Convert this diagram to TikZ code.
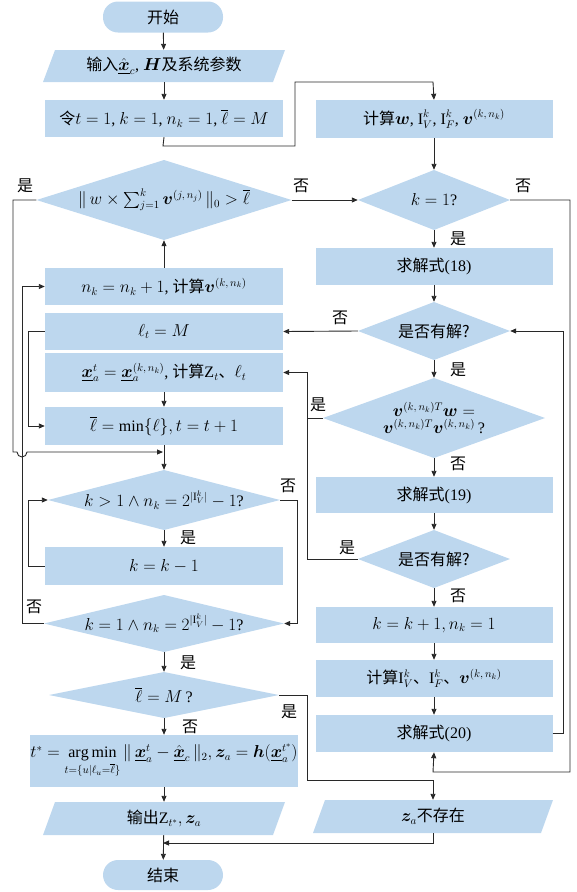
\documentclass[tikz,border=0pt]{standalone}
\usepackage{amsmath,amssymb}
\usepackage{bm}
\usepackage{fontspec}
\setmainfont{Liberation Serif}
\newfontfamily\cjkfont{Noto Sans CJK SC}
\newcommand\zw[1]{{\cjkfont #1}}
\usetikzlibrary{arrows.meta}
\definecolor{bx}{RGB}{189,215,238}
\definecolor{lc}{RGB}{40,40,40}
\newcommand\fs{\fontsize{16}{19}\selectfont}
\newcommand\ux{\underline{\bm{x}}}
\tikzset{
  box/.style={rectangle, fill=bx, inner sep=0pt, align=center, font=\fs},
  term/.style={box, rounded corners=15pt},
  dia/.style={rectangle, inner sep=0pt, align=center, font=\fs,
    path picture={\fill[bx] (path picture bounding box.north) -- (path picture bounding box.east) -- (path picture bounding box.south) -- (path picture bounding box.west) -- cycle;}},
  para/.style={rectangle, inner sep=0pt, align=center, font=\fs,
    path picture={\fill[bx] ([xshift=12pt]path picture bounding box.north west) -- (path picture bounding box.north east) -- ([xshift=-12pt]path picture bounding box.south east) -- (path picture bounding box.south west) -- cycle;}},
  cn/.style={draw=lc, line width=0.9pt},
  ar/.style={cn, -{Triangle[length=6pt,width=5pt]}},
  lab/.style={font=\fs, inner sep=0pt},
}
\begin{document}
\begin{tikzpicture}[x=1pt,y=-1pt]
\useasboundingbox (0,0) rectangle (577,892);
% ---------- left column ----------
\node[term, minimum width=120pt, minimum height=31pt] (start) at (163,17) {\zw{开始}};
\node[para, minimum width=242pt, minimum height=32pt] (input) at (164,66) {\zw{输入}$\hat{\ux}_c$, $\bm{H}$\zw{及系统参数}};
\node[box, minimum width=238pt, minimum height=37pt] (init) at (164,118.5) {\zw{令}$t=1$, $k=1$, $n_k=1$, $\overline{\ell}=M$};
\node[dia, minimum width=255pt, minimum height=80pt] (dl) at (164,200) {$\|\,w\times\sum_{j=1}^{k}\bm{v}^{(j,\,n_j)}\,\|_0>\overline{\ell}$};
\node[box, minimum width=238pt, minimum height=37pt] (nk) at (164,286.5) {$n_k=n_k+1$, \zw{计算}$\bm{v}^{(k,\,n_k)}$};
\node[box, minimum width=238pt, minimum height=37pt] (lt) at (164,331.5) {$\ell_t=M$};
\node[box, minimum width=238pt, minimum height=39pt] (xa) at (164,372.5) {$\ux_a^t=\ux_a^{(k,\,n_k)}$, \zw{计算}$\mathrm{Z}_t$\zw{、}$\ell_t$};
\node[box, minimum width=238pt, minimum height=38pt] (lm) at (164,426) {$\overline{\ell}=\min\{\ell\}, t=t+1$};
\node[dia, minimum width=232pt, minimum height=60pt] (dk1) at (164,500) {$k>1\wedge n_k=2^{|\mathrm{I}_V^k|}-1$?};
\node[box, minimum width=238pt, minimum height=38pt] (km) at (164,566) {$k=k-1$};
\node[dia, minimum width=240pt, minimum height=57pt] (dk2) at (164,623.5) {$k=1\wedge n_k=2^{|\mathrm{I}_V^k|}-1$?};
\node[dia, minimum width=230pt, minimum height=46pt] (dM) at (164,695) {$\overline{\ell}=M\,$?};
\node[box, minimum width=266pt, minimum height=52pt] (am) at (164,761) {$t^*=\mathop{\arg\min}\limits_{t=\{u|\ell_u=\overline{\ell}\}}\|\,\ux_a^t-\hat{\ux}_c\,\|_2, \bm{z}_a=\bm{h}(\ux_a^{t^*})$};
\node[para, minimum width=242pt, minimum height=33pt] (out) at (164,818.5) {\zw{输出}$\mathrm{Z}_{t^*}, \bm{z}_a$};
\node[term, minimum width=120pt, minimum height=30pt] (end) at (163,875) {\zw{结束}};
% ---------- right column ----------
\node[box, minimum width=237pt, minimum height=38pt] (cw) at (434,119) {\zw{计算}$\bm{w}$, $\mathrm{I}_V^k$, $\mathrm{I}_F^k$, $\bm{v}^{(k,\,n_k)}$};
\node[dia, minimum width=152pt, minimum height=60pt] (d1) at (434,200) {$k=1$?};
\node[box, minimum width=237pt, minimum height=37pt] (s18) at (434,266.5) {\zw{求解式}(18)};
\node[dia, minimum width=152pt, minimum height=58pt] (dh1) at (434,331) {\zw{是否有解?}};
\node[dia, minimum width=222pt, minimum height=80pt] (dv) at (434,418) {$\bm{v}^{(k,\,n_k)T}\bm{w}=$\\[-2pt]$\bm{v}^{(k,\,n_k)T}\bm{v}^{(k,\,n_k)}$\,?};
\node[box, minimum width=237pt, minimum height=36pt] (s19) at (434,495) {\zw{求解式}(19)};
\node[dia, minimum width=152pt, minimum height=58pt] (dh2) at (434,559) {\zw{是否有解?}};
\node[box, minimum width=237pt, minimum height=36pt] (kk) at (434,625) {$k=k+1, n_k=1$};
\node[box, minimum width=237pt, minimum height=37pt] (ci) at (434,678.5) {\zw{计算}$\mathrm{I}_V^k$\zw{、}$\mathrm{I}_F^k$\zw{、}$\bm{v}^{(k,\,n_k)}$};
\node[box, minimum width=237pt, minimum height=37pt] (s20) at (434,733.5) {\zw{求解式}(20)};
\node[para, minimum width=240pt, minimum height=33pt] (zn) at (433,816.5) {$\bm{z}_a$\zw{不存在}};
% ---------- coordinates ----------
\coordinate (jL) at (163,452);
\coordinate (jE) at (163,843);
% ---------- connectors ----------
\draw[ar] (start) -- (input);
\draw[ar] (input) -- (init);
\draw[ar] (init.south) -- (163,146) -- (295,146) -- (295,82) -- (433,82) -- (cw.north);
\draw[ar] (cw) -- (d1);
\draw[ar] (d1) -- (s18);
\draw[ar] (d1.east) -- (570,200) -- (570,772) -- (433,772) -- (s20.south);
\draw[ar] (s18) -- (dh1);
\draw[ar] (dh1.west) -- (lt.east);
\draw[ar] (dh1) -- (dv);
\draw[ar] (dv) -- (s19);
\draw[cn] (dv.west) -- (307,418);
\draw[ar] (s19) -- (dh2);
\draw[ar] (dh2.west) -- (307,559) -- (307,372.5) -- (xa.east);
\draw[ar] (dh2) -- (kk);
\draw[ar] (kk) -- (ci);
\draw[ar] (ci) -- (s20);
\draw[ar] (s20.east) -- (563,733.5) -- (563,331) -- (dh1.east);
\draw[ar] (nk) -- (dl);
\draw[ar] (dl.east) -- (d1.west);
\draw[ar] (dl.west) -- (13,200) -- (13,452) -- (17,452) arc[start angle=180, end angle=0, radius=5] -- (jL);
\draw[ar] (lt.west) -- (28,331.5) -- (28,426) -- (lm.west);
\draw[ar] (xa) -- (lm);
\draw[ar] (lm) -- (dk1);
\draw[ar] (dk1) -- (km);
\draw[ar] (dk1.east) -- (297,500) -- (297,623.5) -- (dk2.east);
\draw[ar] (km.west) -- (28,566) -- (28,500) -- (dk1.west);
\draw[ar] (dk2.west) -- (22,623.5) -- (22,286.5) -- (nk.west);
\draw[ar] (dk2) -- (dM);
\draw[ar] (dM) -- (am);
\draw[ar] (dM.east) -- (307,695) -- (307,780) -- (433,780) -- (zn.north);
\draw[ar] (am) -- (out);
\draw[ar] (out) -- (end);
\draw[ar] (zn.south) -- (433,843) -- (jE);
% ---------- labels ----------
\node[lab] (y1) at (25,186) {\zw{是}};
\node[lab] (n1) at (301,186) {\zw{否}};
\node[lab] (n2) at (523,186) {\zw{否}};
\node[lab] (y2) at (458,239) {\zw{是}};
\node[lab] (n3) at (340,318) {\zw{否}};
\node[lab] (y3) at (458,370) {\zw{是}};
\node[lab] (y4) at (318,405) {\zw{是}};
\node[lab] (n4) at (458,464) {\zw{否}};
\node[lab] (y5) at (347,548) {\zw{是}};
\node[lab] (n5) at (458,596) {\zw{否}};
\node[lab] (n6) at (288,486) {\zw{否}};
\node[lab] (y6) at (188,538) {\zw{是}};
\node[lab] (n7) at (34,607) {\zw{否}};
\node[lab] (y7) at (188,663) {\zw{是}};
\node[lab] (y8) at (289,712) {\zw{是}};
\node[lab] (n8) at (190,727) {\zw{否}};
\end{tikzpicture}
\end{document}
